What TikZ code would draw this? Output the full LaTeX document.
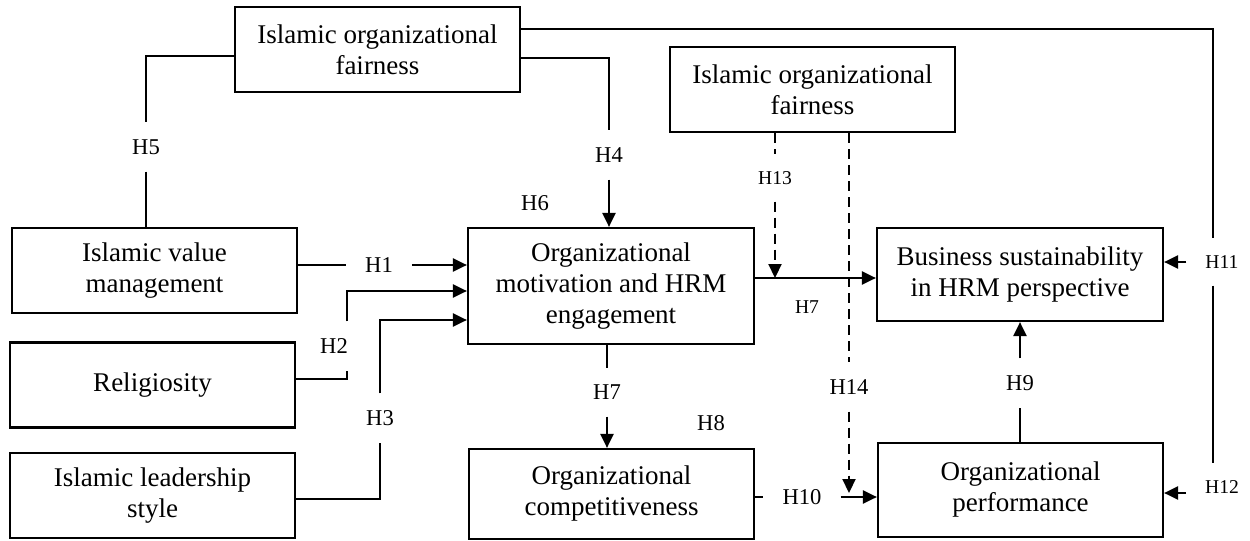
\documentclass[tikz,border=0pt]{standalone}
\usepackage{fontspec}
\setmainfont{Liberation Serif}
\usetikzlibrary{arrows.meta}

\begin{document}
\begin{tikzpicture}[x=0.5pt, y=-0.5pt, line width=1.1pt,
  >={Triangle[length=7pt,width=6.5pt]},
  box/.style={draw, align=center, inner sep=0pt, minimum width=142.5pt,
    minimum height=42.5pt, font=\fontsize{13.5}{15.5}\selectfont},
  hyp/.style={inner xsep=9pt, inner ysep=8pt, font=\fontsize{11.3}{13}\selectfont},
  hyps/.style={hyp, font=\fontsize{9.8}{11}\selectfont},
  dashline/.style={dash pattern=on 5pt off 3pt}]
  \useasboundingbox (0,0) rectangle (1250,541);

  \node[box] (fairA) at (377.5,49.5) {Islamic organizational\\fairness};
  \node[box] (fairB) at (812.5,89.5) {Islamic organizational\\fairness};
  \node[box] (value) at (154.5,270.5) {Islamic value\\management};
  \node[box] (relig) at (152.5,385) {Religiosity};
  \node[box] (lead) at (152.5,495.5) {Islamic leadership\\style};
  \node[box, minimum width=143pt, minimum height=58pt] (motiv) at (611,286) {Organizational\\motivation and HRM\\engagement};
  \node[box, minimum height=45pt] (compet) at (611.5,494) {Organizational\\competitiveness};
  \node[box, minimum width=143pt, minimum height=46.5pt] (sustain) at (1020,274.5) {Business sustainability\\in HRM perspective};
  \node[box, minimum height=47pt] (perf) at (1020.5,490) {Organizational\\performance};

  \node[hyp] (h1) at (379,265) {H1};
  \node[hyp] (h2) at (334,346) {H2};
  \node[hyp] (h3) at (380,418) {H3};
  \node[hyp] (h4) at (609,155) {H4};
  \node[hyp] (h5) at (146,147) {H5};
  \node[hyp] (h6) at (535,203) {H6};
  \node[hyp] (h7) at (607,392) {H7};
  \node[hyps] (h7b) at (807,307) {H7};
  \node[hyp] (h8) at (711,423) {H8};
  \node[hyp] (h9) at (1020,383) {H9};
  \node[hyp] (h10) at (802,497) {H10};
  \node[hyps] (h11) at (1222,262) {H11};
  \node[hyps] (h12) at (1222,487) {H12};
  \node[hyps] (h13) at (775,178) {H13};
  \node[hyp] (h14) at (849,387) {H14};

  \coordinate (turn) at (1213,29);
  \coordinate (mo) at ([yshift=4pt]motiv.east);

  \draw ([yshift=10.25pt]fairA.east) -- (turn) -- (turn |- h11.north);
  \draw (turn |- h11.south) -- (turn |- h12.north);
  \draw[->] (h11) -- (h11 -| sustain.east);
  \draw[->] ([yshift=-3pt]h12.west) -- ([yshift=-3pt]h12.west -| perf.east);

  \draw ([yshift=-4.25pt]fairA.east) -| (h4);
  \draw[->] (h4) -- (h4 |- motiv.north);
  \draw ([yshift=-3.25pt]fairA.west) -| (h5);
  \draw (h5) -- (h5 |- value.north);

  \draw ([yshift=2.75pt]value.east) -- (h1);
  \draw[->] (h1) -- (h1 -| motiv.west);
  \draw ([yshift=3pt]relig.east) -| ([xshift=6.5pt]h2.south);
  \draw[->] ([xshift=6.5pt]h2.north) |- ([yshift=-2.5pt]motiv.west);
  \draw ([yshift=-1.75pt]lead.east) -| (h3);
  \draw[->] (h3) |- ([yshift=-17pt]motiv.west);

  \draw (h7 |- motiv.south) -- (h7);
  \draw[->] (h7) -- (h7 |- compet.north);
  \draw[->] (mo) -- (mo -| sustain.west);

  \draw[dashline] ([xshift=-18.75pt]fairB.south) -- (h13);
  \draw[dashline, ->] (h13) -- (h13 |- mo);
  \draw[dashline] ([xshift=18.25pt]fairB.south) -- (h14);
  \draw[dashline, ->] (h14) -- ([yshift=2pt]h14 |- h10);

  \draw (h10 -| compet.east) -- (h10);
  \draw[->] (h10) -- (h10 -| perf.west);
  \draw (perf.north -| h9) -- (h9);
  \draw[->] (h9) -- (h9 |- sustain.south);
\end{tikzpicture}
\end{document}
